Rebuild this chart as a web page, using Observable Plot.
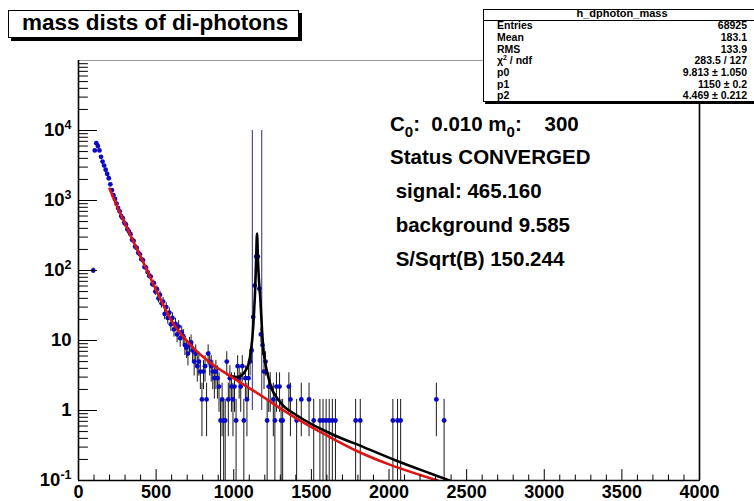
<!DOCTYPE html>
<html><head><meta charset="utf-8">
<script src="https://cdn.jsdelivr.net/npm/d3@7"></script>
<script src="https://cdn.jsdelivr.net/npm/@observablehq/plot@0.6"></script>
<style>
body{margin:0;background:#fff;}
#wrap{position:relative;width:754px;height:501px;overflow:hidden;font-family:"Liberation Sans",Arial,sans-serif;font-weight:bold;color:#000;background:#fff;}
#wrap svg.plot{position:absolute;left:0;top:0;}
.abs{position:absolute;white-space:pre;line-height:1;}
.sub{font-size:15px;position:relative;top:6px;line-height:0;}
.sup{font-size:7px;position:relative;top:-4px;line-height:0;}
</style></head><body><div id="wrap"></div><script>
// ---- data ----
const massBins = [95,105,115,125,135,145,155,165,175,185,195,205,215,225,235,245,255,265,275,285,295,305,315,325,335,345,355,365,375,385,395,405,415,425,435,445,455,465,475,485,495,505,515,525,535,545,555,565,575,585,595,605,615,625,635,645,655,665,675,685,695,705,715,725,735,745,755,765,775,785,795,805,815,825,835,845,855,865,875,885,895,905,915,925,935,945,955,965,975,985,995,1005,1015,1025,1035,1045,1055,1065,1075,1085,1095,1105,1115,1125,1135,1145,1155,1165,1175,1185,1195,1205,1215,1225,1235,1255,1265,1275,1295,1305,1315,1355,1365,1405,1435,1485,1515,1555,1575,1595,1615,1635,1655,1785,1815,2025,2055,2075,2305,2355];
const counts = [100,5200,6600,6000,5200,4200,3600,3150,2750,2400,2080,1700,1400,1190,1050,900,780,700,600,560,480,455,390,360,330,275,265,220,210,180,170,145,140,112,110,95,84,82,64,66,50,54,40,45,34,36,24,30,21,25,17,21,14.4,17.3,12.2,15.8,10.8,13,11.5,8.6,7.9,6.5,8.6,9.4,7.2,5.0,6.5,4.3,5.0,3.6,1.44,3.6,4.3,1.44,6.5,5.0,4.3,3.6,2.9,3.6,2.9,2.2,0.72,1.44,0.72,0.72,5.0,1.44,2.9,2.2,1.44,2.2,0.72,4.3,2.9,2.2,4.3,0.72,2.9,1.44,2.9,5.0,7.2,21.6,61,158,158,55,12.2,8.6,3.6,5.0,0.72,2.2,2.2,1.44,0.72,2.2,2.2,0.72,0.72,2.2,1.44,0.72,1.44,1.44,0.72,0.72,0.72,0.72,0.72,0.72,0.72,0.72,0.72,0.72,0.72,0.72,1.44,0.72];
const entryWeight = 0.72;           // value of one entry (histogram is weighted)

// background fit (red) and total fit (black)
const bgMass = [200,250,300,350,400,450,500,550,600,650,700,750,800,850,900,950,1000,1100,1200,1300,1400,1600,1800,2000,2200,2313];
const bgValue = [1480,813,468,269,158,91,52.5,30.9,19.1,13.2,9.77,7.41,5.89,4.79,3.98,3.39,2.88,2.09,1.51,1.07,0.78,0.44,0.26,0.17,0.12,0.1];
const totMass = [980,1020,1064,1096,1110,1120,1130,1138,1144,1150,1156,1162,1172,1183,1194,1205,1237,1301,1408,1623,1836,2052,2267,2390];
const totValue = [3.1,3.0,3.4,4.7,7,11,24,55,140,336,140,75,37,13,6.5,4.5,2.3,1.3,0.85,0.47,0.30,0.19,0.126,0.1];

const windowEdges = [1120, 1180];    // signal window lines
const windowSpan = [1, 10000];

const xDomain = [0, 4000];
const yDomain = [0.1, 100000];
const xMajor = [0,500,1000,1500,2000,2500,3000,3500,4000];
const xLabels = ["0","500","1000","1500","2000","2500","3000","3500","4000"];
const yMajor = [0.1,1,10,100,1000,10000];
const yLabels = ["10^-1","1","10","10^2","10^3","10^4"];

const titleText = "mass dists of di-photons";
const statsTitle = "h_dphoton_mass";
const statsLabels = ["Entries","Mean","RMS","χ<span class=\"sup\">2</span> / ndf","p0","p1","p2"];
const statsValues = ["68925","183.1","133.9","283.5 / 127","9.813 ± 1.050","1150 ± 0.2","4.469 ± 0.212"];
const annotations = [
  'C<span class="sub">0</span>:  0.010 m<span class="sub">0</span>:    300',
  'Status CONVERGED',
  ' signal: 465.160',
  ' background 9.585',
  ' S/Sqrt(B) 150.244'
];

// ---- derived ----
const points = massBins.map((x, i) => {
  const v = counts[i], e = Math.sqrt(v * entryWeight);
  return {x, y: v, lo: Math.max(v - e, 1e-4), hi: v + e};
});
const bg = bgMass.map((x, i) => ({x, y: bgValue[i]}));
const tot = totMass.map((x, i) => ({x, y: totValue[i]}));
const xMinor = d3.range(xDomain[0], xDomain[1] + 1, 100).filter(d => !xMajor.includes(d));
const yMinor = [];
for (let k = -1; k <= 4; k++) for (let m = 2; m <= 9; m++) yMinor.push(m * Math.pow(10, k));

const tickShape = {draw(ctx, l) { ctx.moveTo(0, 0); ctx.lineTo(0, -l); }};

const plot = Plot.plot({
  width: 754, height: 501,
  marginLeft: 78, marginRight: 55, marginTop: 60, marginBottom: 21,
  style: {fontFamily: '"Liberation Sans", Arial, sans-serif', fontWeight: "bold", fontSize: "18.5px", background: "transparent", overflow: "visible"},
  x: {domain: xDomain, label: null},
  y: {type: "log", domain: yDomain, label: null},
  marks: [
    Plot.ruleY([yDomain[1]], {stroke: "#9a9a9a", strokeWidth: 1}),
    Plot.ruleX(points, {x: "x", y1: "lo", y2: "hi", stroke: "#1a1a1a", strokeWidth: 1, clip: true}),
    Plot.ruleX(windowEdges, {y1: windowSpan[0], y2: windowSpan[1], stroke: "#4e4e9c", strokeWidth: 1.2}),
    Plot.dot(points, {x: "x", y: "y", r: 2.4, fill: "#0a0ac4", clip: true}),
    Plot.line(tot, {x: "x", y: "y", stroke: "#000", strokeWidth: 2.6, curve: "monotone-x", clip: true}),
    Plot.line(bg, {x: "x", y: "y", stroke: "#dc1414", strokeWidth: 2.6, curve: "monotone-x", clip: true}),
    Plot.ruleX([xDomain[0]], {stroke: "#000", strokeWidth: 1.6}),
    Plot.ruleX([xDomain[1]], {stroke: "#000", strokeWidth: 1.6}),
    Plot.ruleY([yDomain[0]], {stroke: "#000", strokeWidth: 1.6}),
    Plot.vector(yMajor, {y: d => d, frameAnchor: "left", rotate: 90, length: 18, anchor: "start", shape: tickShape, stroke: "#000", strokeWidth: 1}),
    Plot.vector(yMinor, {y: d => d, frameAnchor: "left", rotate: 90, length: 9, anchor: "start", shape: tickShape, stroke: "#000", strokeWidth: 1}),
    Plot.vector(xMajor, {x: d => d, frameAnchor: "bottom", rotate: 0, length: 11, anchor: "start", shape: tickShape, stroke: "#000", strokeWidth: 1}),
    Plot.vector(xMinor, {x: d => d, frameAnchor: "bottom", rotate: 0, length: 5.5, anchor: "start", shape: tickShape, stroke: "#000", strokeWidth: 1}),
    Plot.axisX({ticks: xMajor, tickSize: 0, tickPadding: 5, tickFormat: d => xLabels[xMajor.indexOf(d)], fontSize: 18, fontWeight: "bold", label: null}),
    Plot.axisY({ticks: yMajor, tickSize: 0, tickPadding: 7, tickFormat: d => yLabels[yMajor.indexOf(d)], fontSize: 18.5, fontWeight: "bold", label: null})
  ]
});
plot.classList.add("plot");
// superscripts on the log-axis labels
plot.querySelectorAll('g[aria-label="y-axis tick label"] text').forEach(t => {
  const s = t.textContent;
  if (s.includes("^")) {
    const [b, e] = s.split("^");
    t.textContent = "";
    const ns = "http://www.w3.org/2000/svg";
    const t1 = document.createElementNS(ns, "tspan"); t1.textContent = b;
    const t2 = document.createElementNS(ns, "tspan"); t2.textContent = e;
    t2.setAttribute("dy", "-7"); t2.setAttribute("font-size", "12.5");
    t.append(t1, t2);
  }
});
const wrap = document.getElementById("wrap");
wrap.appendChild(plot);

function addDiv(html, css) {
  const d = document.createElement("div");
  d.className = "abs"; d.innerHTML = html;
  Object.assign(d.style, css);
  wrap.appendChild(d); return d;
}
// title box
addDiv("", {left: "8px", top: "10px", width: "289px", height: "26px", border: "1px solid #000", background: "#fff", boxShadow: "3px 3px 0 #000"});
addDiv(titleText, {left: "22px", top: (31 - 0.8465 * 22.5) + "px", fontSize: "22.5px"});

// stats box
addDiv("", {left: "483px", top: "9px", width: "290px", height: "91px", border: "1px solid #000", background: "#fff", boxShadow: "2px 2px 0 #000"});
addDiv("", {left: "484px", top: "20px", width: "290px", height: "0px", borderTop: "1px solid #000"});
addDiv(statsTitle, {left: "572px", width: "100px", textAlign: "center", top: (17.5 - 0.8465 * 11) + "px", fontSize: "11px"});
statsLabels.forEach((s, i) => {
  const base = 29 + i * 11.7;
  addDiv(s, {left: "497px", top: (base - 0.8465 * 10.5) + "px", fontSize: "10.5px"});
  addDiv(statsValues[i], {right: (754 - 747) + "px", top: (base - 0.8465 * 10.5) + "px", fontSize: "10.5px", textAlign: "right"});
});

// fit annotations
const annBase = [131, 164, 198, 232, 266];
annotations.forEach((s, i) => {
  addDiv(s, {left: "390px", top: (annBase[i] - 0.8465 * 20.5) + "px", fontSize: "20.5px"});
});
</script></body></html>
